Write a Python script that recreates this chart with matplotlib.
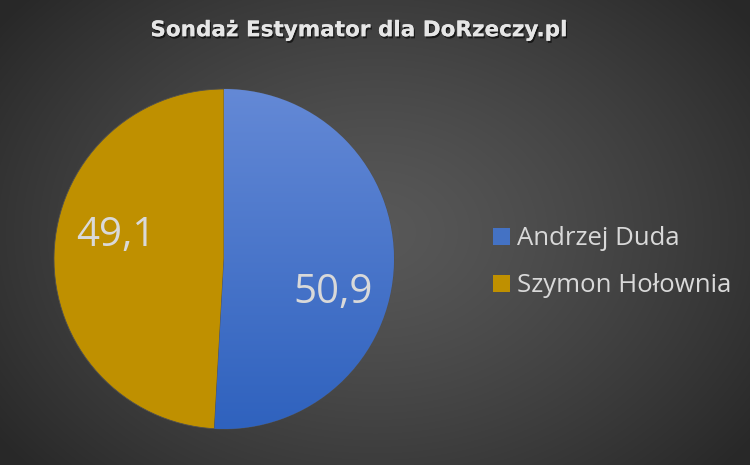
import numpy as np
import matplotlib
matplotlib.use("Agg")
import matplotlib.pyplot as plt
import matplotlib.patheffects as pe
from matplotlib.colors import LinearSegmentedColormap

title = "Sondaż Estymator dla DoRzeczy.pl"
labels = ["Andrzej Duda", "Szymon Hołownia"]
values = [50.9, 49.1]
value_labels = ["50,9", "49,1"]
colors = ["#4472C4", "#BF9000"]

plt.rcParams['font.family'] = ['Open Sans', 'DejaVu Sans']

W, H = 750, 465
fig = plt.figure(figsize=(W / 100, H / 100), dpi=100)

# radial gradient background
bg = fig.add_axes([0, 0, 1, 1])
yy, xx = np.mgrid[0:H, 0:W]
cx, cy = W * 0.5, H * 0.5
r = np.sqrt(((xx - cx) / (W * 0.62)) ** 2 + ((yy - cy) / (H * 0.75)) ** 2)
r = np.clip(r, 0, 1)
c0, c1 = 0.345, 0.16
img = c0 + (c1 - c0) * r ** 1.3
bg.imshow(np.dstack([img, img, img]), extent=[0, 1, 0, 1], aspect='auto', origin='upper')
bg.set_axis_off()

# pie axes
R = 170
pcx, pcy = 224, 259
ax = fig.add_axes([(pcx - R) / W, (H - pcy - R) / H, 2 * R / W, 2 * R / H])
wedges, _ = ax.pie(values, colors=colors, startangle=90, counterclock=False,
                   radius=1.0, wedgeprops=dict(linewidth=0.6, edgecolor="#505050"))
ax.set_xlim(-1, 1)
ax.set_ylim(-1, 1)
ax.set_axis_off()

# blue vertical gradient on Duda wedge
grad = np.linspace(0, 1, 256).reshape(-1, 1)
cmap = LinearSegmentedColormap.from_list("b", ["#6489D6", "#2F62BE"])
gi = ax.imshow(grad, extent=[-1, 1, -1, 1], cmap=cmap, aspect='auto', origin='upper',
               zorder=wedges[0].get_zorder() + 0.1)
gi.set_clip_path(wedges[0])
ax.set_xlim(-1, 1)
ax.set_ylim(-1, 1)

# value labels
for w, t in zip(wedges, value_labels):
    mid = np.deg2rad((w.theta1 + w.theta2) / 2 - 13)
    d = 0.66
    ax.text(d * np.cos(mid), d * np.sin(mid), t, ha='center', va='center_baseline',
            fontsize=29, color="#D9D9D9", zorder=5)

fig.text(0.478, 0.935, title, ha='center', va='center', fontsize=15.5,
         fontweight='bold', color="#E6E6E6", family=['DejaVu Sans'],
         path_effects=[pe.withSimplePatchShadow(offset=(1, -1.5), shadow_rgbFace='black', alpha=0.6), pe.Normal()])

leg = fig.legend(wedges, labels, loc='center left', bbox_to_anchor=(0.657, 0.436),
                 frameon=False, fontsize=18.5, labelcolor="#D9D9D9",
                 handlelength=0.66, handleheight=0.66, handletextpad=0.3,
                 labelspacing=0.85, borderpad=0, borderaxespad=0)
for h in leg.legend_handles:
    h.set_edgecolor('none')

fig.savefig("out.png", dpi=100)
